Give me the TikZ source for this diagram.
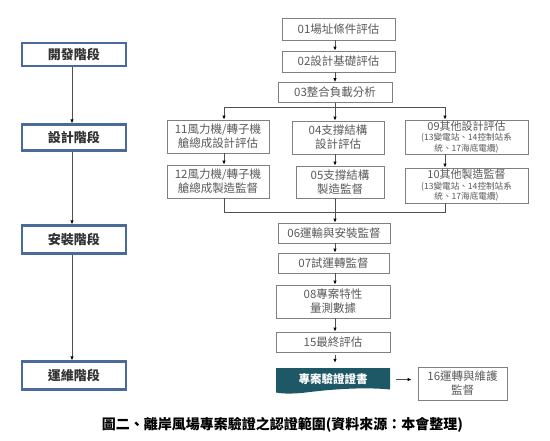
\documentclass[tikz,border=0pt]{standalone}
\usepackage{fontspec}
\setmainfont{Noto Sans CJK TC}
\usetikzlibrary{arrows.meta}
\definecolor{phase}{RGB}{74,106,156}
\definecolor{boxline}{RGB}{128,128,128}
\definecolor{boxtext}{RGB}{89,89,89}
\definecolor{certfill}{RGB}{30,88,102}
\definecolor{lncol}{RGB}{80,80,80}
\newcommand\bigtxt{\fontsize{11}{10.5}\selectfont}
\begin{document}
\begin{tikzpicture}[x=1pt,y=-1pt,
  phasebox/.style={draw=phase, line width=2.2pt, minimum width=104pt, inner sep=0pt,
    font=\bfseries\fontsize{13}{15}\selectfont, text=black!80},
  stepbox/.style={draw=boxline, line width=0.8pt, text=boxtext, align=center, inner sep=0pt,
    font=\fontsize{11.5}{14}\selectfont},
  otherbox/.style={stepbox, font=\fontsize{8.6}{10.5}\selectfont},
  ln/.style={draw=lncol, line width=0.8pt},
  arr/.style={ln, -{Latex[length=4pt,width=3.5pt,color=black]}}]
\useasboundingbox (0,0) rectangle (550,440);
% phase column
\node[phasebox, minimum height=23pt] (p1) at (74,54.5) {開發階段};
\node[phasebox, minimum height=26pt] (p2) at (74,137.5) {設計階段};
\node[phasebox, minimum height=28pt] (p3) at (74,239.5) {安裝階段};
\node[phasebox, minimum height=28pt] (p4) at (74,375.5) {運維階段};
\coordinate (px) at (72,0);
\draw[arr] (p1.south -| px) -- (p2.north -| px);
\draw[arr] (p2.south -| px) -- (p3.north -| px);
\draw[arr] (p3.south -| px) -- (p4.north -| px);
% step boxes
\node[stepbox, minimum width=113pt, minimum height=22pt] (n01) at (338.5,29) {01場址條件評估};
\node[stepbox, minimum width=113pt, minimum height=21pt] (n02) at (338.5,61.5) {02設計基礎評估};
\node[stepbox, minimum width=114pt, minimum height=20pt] (n03) at (335,92.5) {03整合負載分析};
\node[stepbox, minimum width=102pt, minimum height=33pt] (n11) at (218,136.5) {11風力機/轉子機\\艙總成設計評估};
\node[stepbox, minimum width=102pt, minimum height=33pt] (n12) at (218,181.5) {12風力機/轉子機\\艙總成製造監督};
\node[stepbox, minimum width=92pt, minimum height=33pt] (n04) at (338,137.5) {04支撐結構\\設計評估};
\node[stepbox, minimum width=88pt, minimum height=32pt] (n05) at (340,182) {05支撐結構\\製造監督};
\node[otherbox, minimum width=123pt, minimum height=34pt] (n09) at (466.5,137) {{\bigtxt 09其他設計評估}\\(13變電站、14控制站系\\統、17海底電纜)};
\node[otherbox, minimum width=123pt, minimum height=35pt] (n10) at (466.5,185.5) {{\bigtxt 10其他製造監督}\\(13變電站、14控制站系\\統、17海底電纜)};
\node[stepbox, minimum width=112pt, minimum height=20pt] (n06) at (334,233) {06運輸與安裝監督};
\node[stepbox, minimum width=111pt, minimum height=20pt] (n07) at (333.5,263) {07試運轉監督};
\node[stepbox, minimum width=114pt, minimum height=33pt] (n08) at (333,301.5) {08專案特性\\量測數據};
\node[stepbox, minimum width=114pt, minimum height=20pt] (n15) at (333,342) {15最終評估};
\fill[certfill] (276,368) -- (390,368) -- (390,389.5)
  .. controls (365,387) and (335,389) .. (310,392)
  .. controls (295,394) and (284,394) .. (276,392.5) -- cycle;
\node[minimum width=114pt, minimum height=25pt, inner sep=0pt, text=white,
  font=\bfseries\fontsize{11.5}{14}\selectfont] (cert) at (333,379.5) {專案驗證證書};
\node[stepbox, minimum width=89pt, minimum height=33pt] (n16) at (462.5,383.5) {16運轉與維護\\監督};
% connectors
\coordinate (mx) at (335,0);
\coordinate (lx) at (224,0);
\coordinate (rx) at (445,0);
\coordinate (sp) at (0,107);
\coordinate (jn) at (0,212);
\draw[arr] (n01.south -| mx) -- (n02.north -| mx);
\draw[arr] (n02.south -| mx) -- (n03.north -| mx);
\draw[arr] (n03.south -| mx) -- (n04.north -| mx);
\draw[ln] (sp -| lx) -- (sp -| rx);
\draw[arr] (sp -| lx) -- (n11.north -| lx);
\draw[arr] (sp -| rx) -- (n09.north -| rx);
\draw[arr] (n11.south -| lx) -- (n12.north -| lx);
\draw[arr] (n04.south -| mx) -- (n05.north -| mx);
\draw[arr] (n09.south -| rx) -- (n10.north -| rx);
\draw[ln] (n12.south -| lx) -- (jn -| lx) -- (jn -| rx) -- (n10.south -| rx);
\draw[arr] (n05.south -| mx) -- (n06.north -| mx);
\draw[arr] (n06.south -| mx) -- (n07.north -| mx);
\draw[arr] (n07.south -| mx) -- (n08.north -| mx);
\draw[arr] (n08.south -| mx) -- (n15.north -| mx);
\draw[arr, shorten <=3pt, shorten >=4pt] (n15.south -| mx) -- (cert.north -| mx);
\draw[arr, shorten <=6pt, shorten >=6pt] (cert.east) -- (n16.west |- cert.east);
% caption
\node[font=\bfseries\fontsize{14}{16}\selectfont, text=black] (cap) at (282.5,425) {圖二、離岸風場專案驗證之認證範圍(資料來源：本會整理)};
\end{tikzpicture}
\end{document}
